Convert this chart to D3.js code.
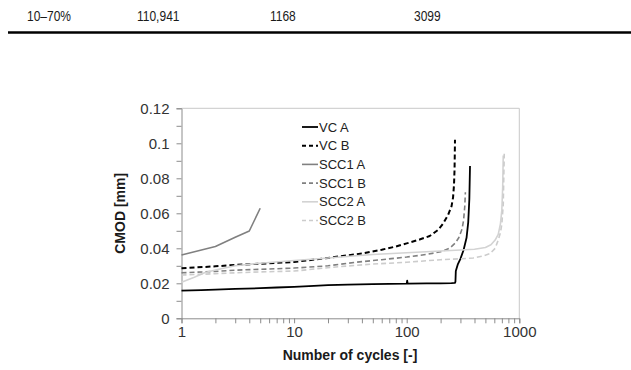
<!DOCTYPE html>
<html><head><meta charset="utf-8">
<script src="https://cdn.jsdelivr.net/npm/d3@7"></script>
<style>html,body{margin:0;padding:0;background:#fff;}svg{display:block;}</style>
</head><body>
<svg id="c" width="631" height="370"></svg>
<script>
// Table row above chart
const tableRow = ["10–70%", "110,941", "1168", "3099"];

// Series data (cycles, CMOD mm)
const vcA_n = [1, 1.5, 2, 3, 5, 7, 10, 15, 20, 30, 50, 70, 100, 101, 102, 150, 200, 250, 268, 271, 273, 285, 300, 320, 340, 352, 360, 365];
const vcA_v = [0.0158, 0.0161, 0.0164, 0.0168, 0.0172, 0.0176, 0.0180, 0.0185, 0.0189, 0.0192, 0.0195, 0.0197, 0.0198, 0.0215, 0.0198, 0.0199, 0.0200, 0.0201, 0.0202, 0.0210, 0.0270, 0.0310, 0.0340, 0.0390, 0.0460, 0.0550, 0.0680, 0.0870];
const vcB_n = [1, 2, 3, 5, 10, 20, 30, 40, 60, 80, 100, 130, 160, 190, 210, 233, 250, 258, 263, 266, 268.5];
const vcB_v = [0.0286, 0.0297, 0.0305, 0.0312, 0.0322, 0.0345, 0.0360, 0.0370, 0.0392, 0.0410, 0.0428, 0.0450, 0.0470, 0.0505, 0.0540, 0.0590, 0.0640, 0.0690, 0.0760, 0.0850, 0.1020];
const scc1A_n = [1, 2, 3, 4, 5];
const scc1A_v = [0.0362, 0.0410, 0.0463, 0.0499, 0.0629];
const scc1B_n = [1, 2, 3, 5, 10, 20, 35, 60, 100, 150, 200, 240, 270, 290, 310, 320, 328, 332];
const scc1B_v = [0.0260, 0.0268, 0.0275, 0.0280, 0.0287, 0.0300, 0.0320, 0.0335, 0.0350, 0.0365, 0.0380, 0.0400, 0.0430, 0.0460, 0.0510, 0.0560, 0.0640, 0.0720];
const scc2A_n = [1, 1.3, 1.6, 2, 3, 5, 10, 20, 50, 100, 200, 300, 400, 500, 560, 610, 650, 680, 700, 712, 720];
const scc2A_v = [0.0206, 0.0235, 0.0260, 0.0276, 0.0300, 0.0315, 0.0330, 0.0345, 0.0365, 0.0375, 0.0385, 0.0390, 0.0395, 0.0405, 0.0420, 0.0447, 0.0480, 0.0540, 0.0620, 0.0750, 0.0930];
const scc2B_n = [1, 2, 3, 5, 10, 25, 50, 100, 200, 300, 390, 470, 550, 610, 650, 680, 700, 720, 735];
const scc2B_v = [0.0247, 0.0255, 0.0260, 0.0265, 0.0270, 0.0295, 0.0310, 0.0320, 0.0335, 0.0340, 0.0345, 0.0355, 0.0370, 0.0400, 0.0447, 0.0490, 0.0540, 0.0650, 0.0940];

const seriesNames = ["VC A", "VC B", "SCC1 A", "SCC1 B", "SCC2 A", "SCC2 B"];
const yTicks = [0, 0.02, 0.04, 0.06, 0.08, 0.1, 0.12];
const xTicks = [1, 10, 100, 1000];

const series = [
  {name: seriesNames[0], n: vcA_n, v: vcA_v, color: "#000000", dash: null, w: 1.8},
  {name: seriesNames[1], n: vcB_n, v: vcB_v, color: "#000000", dash: "5,3", w: 2},
  {name: seriesNames[2], n: scc1A_n, v: scc1A_v, color: "#808080", dash: null, w: 1.6},
  {name: seriesNames[3], n: scc1B_n, v: scc1B_v, color: "#808080", dash: "5,3", w: 1.6},
  {name: seriesNames[4], n: scc2A_n, v: scc2A_v, color: "#d3d3d3", dash: null, w: 1.6},
  {name: seriesNames[5], n: scc2B_n, v: scc2B_v, color: "#cccccc", dash: "5,3", w: 1.6}
];

const svg = d3.select("#c");

// table row
const tx = [27, 137, 270, 414];
tableRow.forEach((t, i) => {
  svg.append("text").attr("transform", `translate(${tx[i]},20.5) scale(0.8,1)`)
    .attr("font-family", "Liberation Sans, Arial, sans-serif").attr("font-size", 15)
    .attr("fill", "#1a1a1a").text(t);
});
svg.append("line").attr("x1", 8).attr("x2", 631).attr("y1", 32.5).attr("y2", 32.5)
  .attr("stroke", "#000").attr("stroke-width", 2.5);

const x = d3.scaleLog().domain([1, 1000]).range([181.5, 519.3]);
const y = d3.scaleLinear().domain([0, 0.12]).range([318.3, 108.3]);

// plot border (top, right)
svg.append("path").attr("d", `M${x(1)},${y(0.12)}H${x(1000)}V${y(0)}`)
  .attr("fill", "none").attr("stroke", "#c8c8c8").attr("stroke-width", 1);

// axes
const minorX = [];
[1, 10, 100].forEach(d => { for (let k = 1; k <= 9; k++) minorX.push(d * k); });
minorX.push(1000);
const xAxis = d3.axisBottom(x).tickValues(minorX).tickSize(5).tickFormat(d => xTicks.includes(d) ? d : "");
const gx = svg.append("g").attr("transform", `translate(0,${y(0)})`).call(xAxis);
const yMinor = d3.range(0, 0.1201, 0.01);
const yAxis = d3.axisLeft(y).tickValues(yMinor).tickSize(5)
  .tickFormat(d => { const r = Math.round(d * 100) / 100; return yTicks.some(t => Math.abs(t - r) < 1e-9) && Math.round(d*100) % 2 === 0 ? String(r) : ""; });
const gy = svg.append("g").attr("transform", `translate(${x(1)},0)`).call(yAxis);
[gx, gy].forEach(g => {
  g.select(".domain").attr("stroke", "#8c8c8c").attr("stroke-width", 1);
  g.selectAll(".tick line").attr("stroke", "#8c8c8c");
  g.selectAll(".tick text").attr("font-family", "Liberation Sans, Arial, sans-serif")
    .attr("font-size", 15).attr("fill", "#333");
});
gx.selectAll(".tick text").attr("dy", 0).attr("y", 19);
gy.selectAll(".tick text").attr("x", -12).attr("dy", "0.36em");

// lines
const line = d3.line().x(d => x(d[0])).y(d => y(d[1]));
series.forEach(s => {
  const pts = s.n.map((n, i) => [n, s.v[i]]);
  svg.append("path").datum(pts).attr("d", line).attr("fill", "none")
    .attr("stroke", s.color).attr("stroke-width", s.w)
    .attr("stroke-dasharray", s.dash).attr("stroke-linejoin", "round");
});

// legend
series.forEach((s, i) => {
  const ly = 127 + i * 18.7;
  svg.append("line").attr("x1", 302).attr("x2", 318).attr("y1", ly).attr("y2", ly)
    .attr("stroke", s.color).attr("stroke-width", s.w).attr("stroke-dasharray", s.dash ? "4,3" : null);
  svg.append("text").attr("x", 319).attr("y", ly).attr("dy", "0.36em")
    .attr("font-family", "Liberation Sans, Arial, sans-serif").attr("font-size", 13)
    .attr("fill", "#222").text(s.name);
});

// axis titles
svg.append("text").attr("x", 350).attr("y", 360).attr("text-anchor", "middle")
  .attr("font-family", "Liberation Sans, Arial, sans-serif").attr("font-weight", "bold")
  .attr("font-size", 14).attr("fill", "#1a1a1a").text("Number of cycles [-]");
svg.append("text").attr("transform", `translate(125,${(y(0) + y(0.12)) / 2}) rotate(-90)`)
  .attr("text-anchor", "middle")
  .attr("font-family", "Liberation Sans, Arial, sans-serif").attr("font-weight", "bold")
  .attr("font-size", 14).attr("fill", "#1a1a1a").text("CMOD [mm]");
</script>
</body></html>
